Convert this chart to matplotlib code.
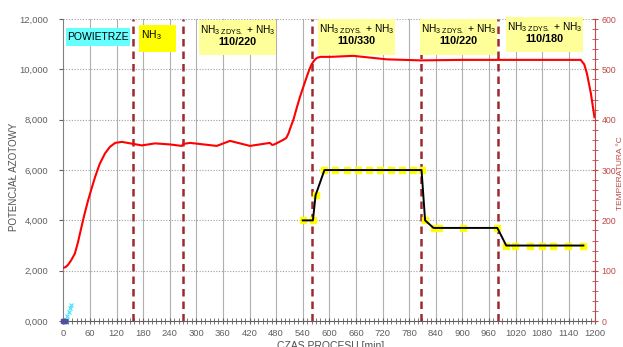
import matplotlib
matplotlib.use("Agg")
import matplotlib.pyplot as plt
from matplotlib.patches import Rectangle
from matplotlib.ticker import MultipleLocator, FuncFormatter

plt.rcParams["font.family"] = ["Liberation Sans", "DejaVu Sans"]
plt.rcParams["mathtext.fontset"] = "custom"
plt.rcParams["mathtext.rm"] = "Liberation Sans"
plt.rcParams["mathtext.default"] = "regular"

# temperatura pieca [°C] (oś prawa)
temp_t = [0, 5, 11, 18, 26, 33, 41, 48, 56, 64, 72, 82, 94, 105, 117, 132,
          145, 158, 177, 207, 240, 267, 271, 286, 346, 376, 421, 466, 471,
          476, 496, 503, 508, 513, 519, 526, 534, 542, 549, 555, 560, 566,
          572, 580, 602, 654, 730, 806, 900, 1000, 1100, 1167, 1175, 1181,
          1190, 1198]
temp_c = [106, 107, 112, 121, 134, 156, 187, 213, 240, 264, 287, 312, 333,
          346, 354, 356, 354, 352, 349, 353, 351, 348, 352, 354, 348, 358,
          348, 354, 350, 351, 360, 364, 373, 386, 400, 422, 446, 467, 485,
          500, 510, 518, 523, 525, 525, 527, 520, 518, 519, 519, 519, 519,
          510, 492, 452, 405]

# potencjał azotowy Kn (oś lewa)
kn_t = [540, 563, 569, 589, 613, 639, 664, 690, 714, 739, 763, 788, 808, 816,
        835, 848, 902, 979, 999, 1019, 1053, 1079, 1105, 1139, 1173]
kn_v = [4.0, 4.0, 5.0, 6.0, 6.0, 6.0, 6.0, 6.0, 6.0, 6.0, 6.0, 6.0, 6.0, 4.0,
        3.7, 3.7, 3.7, 3.7, 3.0, 3.0, 3.0, 3.0, 3.0, 3.0, 3.0]

# pomiary na starcie
start_t = [3, 6, 9, 12, 15, 18]
start_v = [0.0, 0.06, 0.18, 0.35, 0.50, 0.62]
origin_t = [0, 2, 4]
origin_v = [0, 0, 0]

# zmiany atmosfery [min]
phase_t = [157, 270, 561, 806, 980]

# opisy etapów: (t0, t1, kn0, kn1, kolor, linia 1, linia 2)
boxes = [
    (6, 151, 10.93, 11.64, "#66ffff", "POWIETRZE", None),
    (171, 255, 10.69, 11.76, "#ffff00", "NH$_3$", None),
    (306, 480, 10.57, 11.96, "#ffff99", "NH$_{3\\ ZDYS.}$ + NH$_3$", "110/220"),
    (575, 748, 10.57, 12.00, "#ffff99", "NH$_{3\\ ZDYS.}$ + NH$_3$", "110/330"),
    (805, 978, 10.57, 12.00, "#ffff99", "NH$_{3\\ ZDYS.}$ + NH$_3$", "110/220"),
    (999, 1172, 10.69, 12.08, "#ffff99", "NH$_{3\\ ZDYS.}$ + NH$_3$", "110/180"),
]

fig = plt.figure(figsize=(6.23, 3.47), dpi=100)
ax = fig.add_axes([0.1016, 0.0749, 0.854, 0.870])
axr = ax.twinx()

ax.set_xlim(0, 1200)
ax.set_ylim(0, 12)
axr.set_ylim(0, 600)

# siatka
for t in range(60, 1200, 60):
    ax.axvline(t, color="#b0b0b0", lw=0.8, zorder=0)
for v in range(2, 13, 2):
    ax.axhline(v, color="#a0a0a0", lw=0.8, ls=(0, (1, 1.5)), zorder=0)

for t in phase_t:
    ax.axvline(t, color="#9c2a2e", lw=1.8, ls=(0, (3, 2)), zorder=2)

ax.plot(kn_t, kn_v, color="#ffff00", ls="none", marker="s", ms=4, zorder=3)
ax.plot(kn_t, kn_v, color="black", lw=1.4, zorder=4)
ax.plot(start_t, start_v, color="#40e0ff", ls="none", marker="x", ms=3.5,
        mew=0.8, zorder=4, clip_on=False)
ax.plot(origin_t, origin_v, color="#5050a0", ls="none", marker="s", ms=2.5,
        zorder=4, clip_on=False)

axr.plot(temp_t, temp_c, color="#ff0000", lw=1.5, zorder=5)

for t0, t1, k0, k1, col, l1, l2 in boxes:
    ax.add_patch(Rectangle((t0, k0), t1 - t0, k1 - k0, facecolor=col,
                           edgecolor="none", zorder=6, clip_on=False))
    xc = (t0 + t1) / 2
    if l2 is None:
        if col == "#66ffff":
            ax.text(xc, (k0 + k1) / 2, l1, ha="center", va="center",
                    fontsize=7.5, zorder=7)
        else:
            ax.text(t0 + 4, k1 - 0.12, l1, ha="left", va="top",
                    fontsize=7.5, zorder=7)
    else:
        ax.text(xc, k1 - 0.12, l1, ha="center", va="top", fontsize=7.3,
                zorder=7)
        ax.text(xc, k1 - 0.66, l2, ha="center", va="top", fontsize=7.8,
                fontweight="bold", zorder=7)

# osie
ax.xaxis.set_major_locator(MultipleLocator(60))
ax.xaxis.set_minor_locator(MultipleLocator(10))
ax.yaxis.set_major_locator(MultipleLocator(2))
ax.yaxis.set_major_formatter(FuncFormatter(lambda v, p: f"{v:.3f}".replace(".", ",")))
axr.yaxis.set_major_locator(MultipleLocator(100))
axr.yaxis.set_minor_locator(MultipleLocator(20))

ax.tick_params(axis="x", which="both", direction="inout", colors="#606060",
               labelsize=6.8, pad=4, length=4)
ax.tick_params(axis="x", which="minor", length=4)
ax.tick_params(axis="y", direction="out", colors="#606060", labelsize=6.8,
               pad=8, length=3)
axr.tick_params(axis="y", which="both", direction="inout", colors="#c04848",
                labelsize=6.3, pad=2, length=5)
axr.tick_params(axis="y", which="minor", length=4)

for a in (ax, axr):
    a.spines["top"].set_visible(False)
ax.spines["left"].set_color("#808080")
ax.spines["bottom"].set_color("#606060")
ax.spines["right"].set_visible(False)
axr.spines["left"].set_visible(False)
axr.spines["bottom"].set_visible(False)
axr.spines["right"].set_color("#c04848")

fig.text(0.022, 0.49, "POTENCJAŁ AZOTOWY", rotation=90, ha="center",
         va="center", fontsize=7, color="#505050")
fig.text(0.9965, 0.50, "TEMPERATURA °C", rotation=90, ha="center",
         va="center", fontsize=6, color="#c04848")
fig.text(0.53, 0.018, "CZAS PROCESU [min]", ha="center", va="top",
         fontsize=7.5, color="#505050")

fig.savefig("out.png", dpi=100, facecolor="white")
